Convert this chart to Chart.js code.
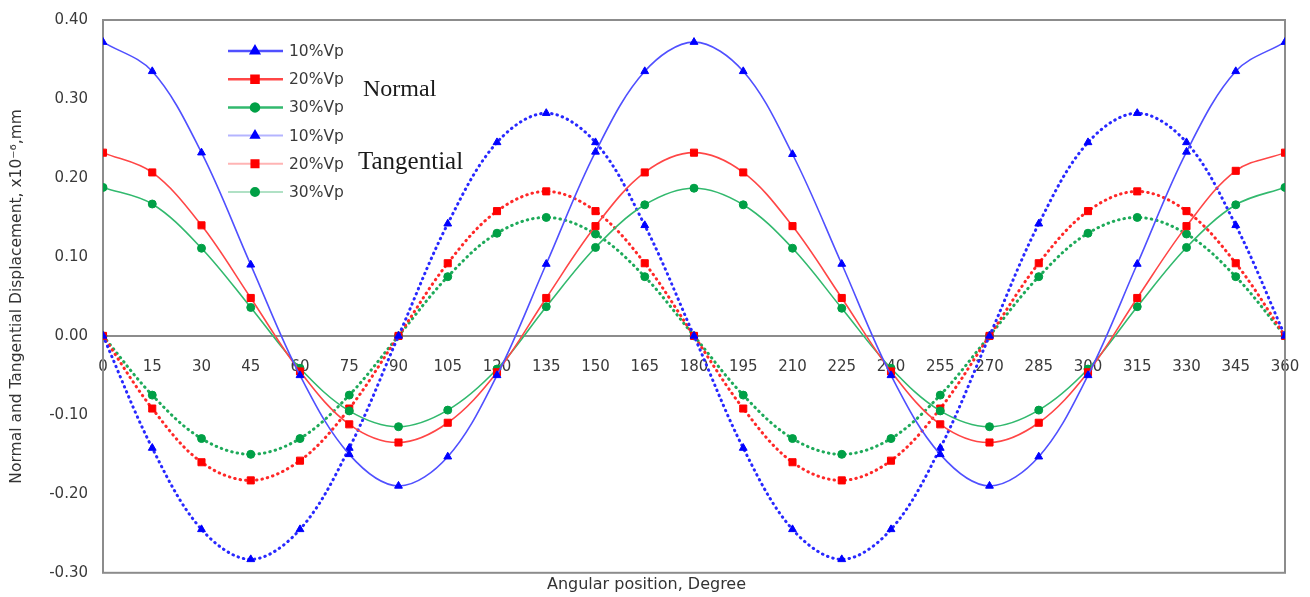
<!DOCTYPE html>
<html>
<head>
<meta charset="utf-8">
<script src="https://cdn.jsdelivr.net/npm/chart.js@4/dist/chart.umd.min.js"></script>
<style>
  html, body { margin: 0; padding: 0; background: #fff; }
  #wrap { width: 1310px; height: 597px; }
</style>
</head>
<body>
<div id="wrap"><canvas id="grafico"></canvas></div>
<script>
// angular positions, degrees
const angulos = [0, 15, 30, 45, 60, 75, 90, 105, 120, 135, 150, 165, 180,
                 195, 210, 225, 240, 255, 270, 285, 300, 315, 330, 345, 360];

// normal displacement (solid lines)
const normal10 = [0.372, 0.335, 0.232, 0.090, -0.050, -0.150, -0.190, -0.153, -0.050, 0.091, 0.233, 0.335, 0.372,
                  0.335, 0.230, 0.091, -0.050, -0.150, -0.190, -0.153, -0.050, 0.091, 0.233, 0.335, 0.372];
const normal20 = [0.232, 0.207, 0.140, 0.048, -0.045, -0.112, -0.135, -0.110, -0.046, 0.048, 0.139, 0.207, 0.232,
                  0.207, 0.139, 0.048, -0.045, -0.112, -0.135, -0.110, -0.046, 0.048, 0.139, 0.209, 0.232];
const normal30 = [0.188, 0.167, 0.111, 0.036, -0.041, -0.095, -0.115, -0.094, -0.042, 0.037, 0.112, 0.166, 0.187,
                  0.166, 0.111, 0.035, -0.041, -0.095, -0.115, -0.094, -0.042, 0.037, 0.112, 0.166, 0.188];

// tangential displacement (dotted lines)
const tang10 = [0, -0.142, -0.245, -0.283, -0.245, -0.142, 0, 0.142, 0.245, 0.282, 0.245, 0.140, 0,
                -0.142, -0.245, -0.283, -0.245, -0.142, 0, 0.142, 0.245, 0.282, 0.245, 0.140, 0];
const tang20 = [0, -0.092, -0.160, -0.183, -0.158, -0.092, 0, 0.092, 0.158, 0.183, 0.158, 0.092, 0,
                -0.092, -0.160, -0.183, -0.158, -0.092, 0, 0.092, 0.158, 0.183, 0.158, 0.092, 0];
const tang30 = [0, -0.075, -0.130, -0.150, -0.130, -0.075, 0, 0.075, 0.130, 0.150, 0.129, 0.075, 0,
                -0.075, -0.130, -0.150, -0.130, -0.075, 0, 0.075, 0.130, 0.150, 0.129, 0.075, 0];

const etiquetas = ['10%Vp', '20%Vp', '30%Vp', '10%Vp', '20%Vp', '30%Vp'];
const grupos = ['Normal', 'Tangential'];
const tituloX = 'Angular position, Degree';
const tituloY = 'Normal and Tangential Displacement, x10\u207B\u2076,mm';

const fuente = '"DejaVu Sans", Verdana, sans-serif';

function puntos(valores) {
    return angulos.map((a, i) => ({ x: a, y: valores[i] }));
}

function serieNormal(label, valores, linea, marca, estilo, radio) {
    return {
        label: label, data: puntos(valores),
        borderColor: linea, borderWidth: 1.6,
        pointStyle: estilo, pointRadius: radio,
        pointBackgroundColor: marca, pointBorderColor: marca, pointBorderWidth: 1,
        tension: 0.35, fill: false
    };
}

function serieTang(label, valores, linea, marca, estilo, radio) {
    return {
        label: label, data: puntos(valores),
        borderColor: linea, borderWidth: 3, borderDash: [0.5, 5], borderCapStyle: 'round',
        pointStyle: estilo, pointRadius: radio,
        pointBackgroundColor: marca, pointBorderColor: marca, pointBorderWidth: 1,
        tension: 0.35, fill: false
    };
}

// frame around the plot area
const marco = {
    id: 'marco',
    beforeDatasetsDraw(chart) {
        const a = chart.chartArea, ctx = chart.ctx;
        ctx.save();
        ctx.strokeStyle = '#8c8c8c';
        ctx.lineWidth = 2;
        ctx.strokeRect(a.left, a.top, a.right - a.left, a.bottom - a.top);
        ctx.restore();
    }
};

// legend drawn inside the plot, plus the group labels
const leyenda = {
    id: 'leyenda',
    afterDraw(chart) {
        const a = chart.chartArea, ctx = chart.ctx;
        const x0 = a.left + 125, y0 = a.top + 31, paso = 28.2;
        ctx.save();
        chart.data.datasets.forEach((ds, i) => {
            const y = y0 + i * paso;
            ctx.beginPath();
            ctx.globalAlpha = i < 3 ? 1 : 0.35;
            ctx.strokeStyle = ds.borderColor;
            ctx.lineWidth = i < 3 ? 2.5 : 2;
            ctx.moveTo(x0, y);
            ctx.lineTo(x0 + 55, y);
            ctx.stroke();
            ctx.globalAlpha = 1;
            ctx.fillStyle = ds.pointBackgroundColor;
            ctx.strokeStyle = ds.pointBackgroundColor;
            Chart.helpers.drawPoint(ctx, { pointStyle: ds.pointStyle, radius: ds.pointRadius, borderWidth: 1, rotation: 0 }, x0 + 27, y);
            ctx.fillStyle = '#3a3a3a';
            ctx.font = '15.5px ' + fuente;
            ctx.textBaseline = 'middle';
            ctx.textAlign = 'left';
            ctx.fillText(ds.label, x0 + 61, y + 1);
        });
        ctx.fillStyle = '#1a1a1a';
        ctx.font = '24px "Liberation Serif", "Times New Roman", serif';
        ctx.textBaseline = 'middle';
        ctx.fillText(grupos[0], a.left + 260, a.top + 70);
        ctx.font = '25px "Liberation Serif", "Times New Roman", serif';
        ctx.fillText(grupos[1], a.left + 255, a.top + 142);
        ctx.restore();
    }
};

const ctx = document.getElementById('grafico').getContext('2d');
new Chart(ctx, {
    type: 'line',
    data: {
        datasets: [
            serieNormal(etiquetas[0], normal10, 'rgb(80,80,255)', '#0000ff', 'triangle', 4.5),
            serieNormal(etiquetas[1], normal20, 'rgb(255,70,70)', '#ff0000', 'rect', 5),
            serieNormal(etiquetas[2], normal30, 'rgb(50,185,110)', '#00a046', 'circle', 4),
            serieTang(etiquetas[3], tang10, 'rgb(40,40,255)', '#0000ff', 'triangle', 4.5),
            serieTang(etiquetas[4], tang20, 'rgb(255,40,40)', '#ff0000', 'rect', 5),
            serieTang(etiquetas[5], tang30, 'rgb(30,170,90)', '#00a046', 'circle', 4)
        ]
    },
    options: {
        responsive: true,
        maintainAspectRatio: false,
        animation: false,
        layout: { padding: { top: 20, right: 25, left: 8, bottom: 0 } },
        plugins: {
            legend: { display: false },
            tooltip: { enabled: false },
            title: {
                display: true, position: 'bottom', text: tituloX, color: '#333',
                font: { family: fuente, size: 16, weight: 'normal' },
                padding: { top: 2, bottom: 3 }
            }
        },
        scales: {
            x: {
                type: 'linear', min: 0, max: 360,
                position: { y: 0 },
                afterFit(scale) { scale.paddingLeft = 0; scale.paddingRight = 0; },
                grid: { display: false, drawTicks: true, tickLength: 7, tickColor: '#999' },
                border: { color: '#8c8c8c', width: 2 },
                ticks: {
                    stepSize: 15, padding: 15, maxRotation: 0, autoSkip: false, color: '#3a3a3a',
                    font: { family: fuente, size: 15 }
                }
            },
            y: {
                min: -0.3, max: 0.4,
                afterFit(scale) { scale.width = 95; scale.paddingTop = 0; scale.paddingBottom = 0; },
                grid: { display: false, drawTicks: true, tickLength: 5, tickColor: '#999' },
                border: { color: '#8c8c8c', width: 2 },
                ticks: {
                    stepSize: 0.1, padding: 10, color: '#3a3a3a',
                    font: { family: fuente, size: 15 },
                    callback: v => v.toFixed(2)
                },
                title: {
                    display: true, text: tituloY, color: '#333', padding: { top: 0, bottom: 2 },
                    font: { family: fuente, size: 15.5 }
                }
            }
        }
    },
    plugins: [marco, leyenda]
});
</script>
</body>
</html>
